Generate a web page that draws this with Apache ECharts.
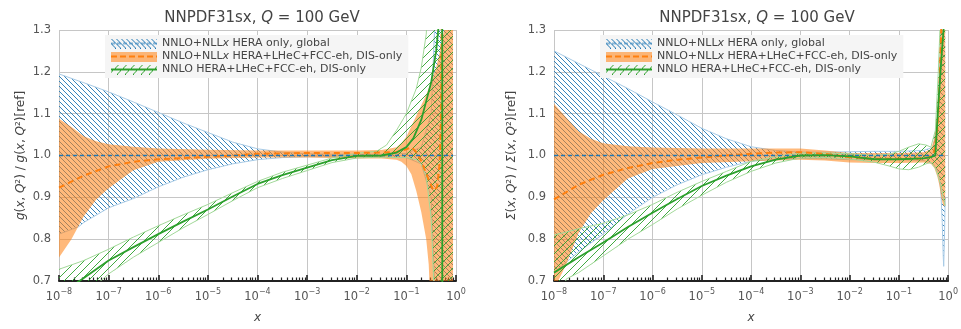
<!DOCTYPE html>
<html><head><meta charset="utf-8">
<script src="https://cdn.jsdelivr.net/npm/echarts@6/dist/echarts.min.js"></script>
<style>html,body{margin:0;padding:0;background:#fff}#c{width:961px;height:329px}</style>
</head><body><div id="c"></div>
<script>
// ---------- DATA (x given as log10 exponents) ----------
// Left panel: gluon ratio
const gBlueE  = [-8,-7.6,-7.5,-7,-6.5,-6,-5.5,-5,-4.5,-4,-3.5,-3,-2.5,-2,-1.5,-1,-0.7,-0.5,-0.4,-0.3,-0.2,-0.06];
const gBlueHi = [1.195,1.178,1.174,1.152,1.128,1.103,1.078,1.055,1.032,1.016,1.008,1.004,1.003,1.003,1.003,1.005,1.02,1.1,1.4,2,3,3];
const gBlueLo = [0.812,0.83,0.84,0.875,0.897,0.925,0.948,0.966,0.98,0.99,0.995,0.997,0.997,0.997,0.997,0.995,0.98,0.9,0.6,0,-1,-1];
const gBlueCE = [-8,-0.06];
const gBlueC  = [1.0,1.0];

const gOrE  = [-8,-7.75,-7.5,-7.25,-7,-6.5,-6,-5,-4,-3,-2,-1.5,-1.2,-1.1,-1.0,-0.9,-0.8,-0.7,-0.6,-0.55,-0.5,-0.4,-0.3,-0.24,-0.2,-0.1,-0.06];
const gOrHi = [1.088,1.068,1.046,1.034,1.027,1.021,1.017,1.014,1.012,1.012,1.012,1.013,1.02,1.03,1.045,1.07,1.095,1.12,1.145,1.16,1.175,1.21,1.26,1.3,1.5,3,3];
const gOrLo = [0.756,0.8,0.855,0.895,0.922,0.965,0.985,0.992,0.995,0.995,0.993,0.993,0.99,0.985,0.975,0.955,0.915,0.865,0.8,0.74,0.6,0.2,-1,-1,-1,-1,-1];
const gOrCE = [-8,-7.5,-7,-6.5,-6,-5.5,-5,-4.5,-4,-3,-2,-1.5,-1.2,-1.0,-0.9,-0.8,-0.7,-0.6,-0.5,-0.45,-0.38,-0.33,-0.3,-0.29,-0.28];
const gOrC  = [0.923,0.952,0.974,0.985,0.991,0.994,0.997,1.0,1.004,1.006,1.006,1.007,1.008,1.015,1.02,1.008,0.987,0.956,0.928,0.916,0.925,0.98,1.1,1.3,3];

const gGrE  = [-8,-7.5,-7,-6.5,-6,-5.5,-5,-4.5,-4,-3.5,-3,-2.5,-2,-1.6,-1.4,-1.2,-1.0,-0.8,-0.7,-0.6,-0.55,-0.5,-0.45,-0.4,-0.3,-0.2,-0.06];
const gGrHi = [0.728,0.749,0.776,0.805,0.832,0.858,0.883,0.911,0.938,0.96,0.977,0.994,1.005,1.01,1.025,1.06,1.1,1.16,1.21,1.29,1.4,1.8,2.5,3,3,3,3];
const gGrLo = [0.608,0.665,0.717,0.757,0.792,0.827,0.859,0.892,0.923,0.945,0.964,0.983,0.994,0.996,0.996,0.995,0.995,0.99,0.98,0.95,0.9,0.85,0.7,0.4,-1,-1,-1];
const gGrCE = [-8,-7.5,-7,-6.5,-6,-5.5,-5,-4.5,-4,-3.5,-3,-2.5,-2,-1.5,-1.2,-1.0,-0.86,-0.7,-0.6,-0.5,-0.4,-0.35,-0.3,-0.28,-0.27,-0.06];
const gGrC  = [0.668,0.707,0.749,0.781,0.812,0.842,0.871,0.902,0.932,0.953,0.971,0.989,0.999,1.0,1.007,1.02,1.041,1.085,1.13,1.175,1.25,1.31,1.6,3,-3,-3];

// Right panel: singlet ratio
const sBlueE  = [-8,-7.5,-7,-6.5,-6,-5.5,-5,-4.5,-4,-3.5,-3,-2.5,-2,-1.5,-1,-0.5,-0.3,-0.2,-0.15,-0.12,-0.1,-0.09,-0.075,-0.06];
const sBlueHi = [1.25,1.22,1.19,1.16,1.128,1.097,1.065,1.04,1.021,1.012,1.008,1.008,1.009,1.01,1.01,1.012,1.02,1.1,1.3,1.6,2,2.5,3,3];
const sBlueLo = [0.72,0.77,0.812,0.86,0.9,0.93,0.954,0.972,0.986,0.991,0.993,0.992,0.99,0.99,0.99,0.988,0.98,0.96,0.92,0.84,0.76,0.735,0.8,0.9];
const sBlueCE = [-8,-0.06];
const sBlueC  = [1.0,1.0];

const sOrE  = [-8,-7.75,-7.5,-7.25,-7,-6.5,-6,-5,-4,-3,-2.5,-2,-1.5,-1,-0.5,-0.35,-0.28,-0.22,-0.18,-0.14,-0.1,-0.06];
const sOrHi = [1.124,1.09,1.058,1.04,1.029,1.022,1.019,1.017,1.017,1.017,1.012,1.006,1.006,1.006,1.008,1.015,1.04,1.1,1.2,1.4,2,3];
const sOrLo = [0.68,0.74,0.815,0.862,0.893,0.945,0.968,0.982,0.986,0.99,0.988,0.983,0.982,0.982,0.983,0.98,0.97,0.95,0.93,0.9,0.88,0.88];
const sOrCE = [-8,-7.5,-7,-6.5,-6,-5.5,-5,-4.5,-4,-3.5,-3,-2.5,-2,-1.5,-1,-0.5,-0.35,-0.28,-0.22,-0.18,-0.14,-0.1,-0.06];
const sOrC  = [0.895,0.93,0.954,0.97,0.982,0.99,0.995,1.0,1.004,1.007,1.008,1.004,0.996,0.992,0.992,0.993,0.997,1.01,1.06,1.15,1.3,1.6,2];

const sGrE  = [-8,-7.75,-7.5,-7,-6.5,-6,-5.5,-5,-4.5,-4,-3.5,-3,-2.5,-2,-1.5,-1.2,-1,-0.8,-0.6,-0.45,-0.35,-0.26,-0.2,-0.15,-0.1,-0.06];
const sGrHi = [0.81,0.817,0.825,0.838,0.858,0.883,0.912,0.938,0.962,0.986,0.997,1.006,1.006,1.004,1.0,1.003,1.01,1.02,1.028,1.025,1.02,1.06,1.2,1.35,1.6,2];
const sGrLo = [0.62,0.705,0.72,0.76,0.8,0.835,0.872,0.905,0.936,0.962,0.982,0.994,0.995,0.992,0.984,0.975,0.968,0.966,0.972,0.98,0.984,0.97,0.95,0.93,0.9,0.88];
const sGrCE = [-8,-7.5,-7,-6.5,-6,-5.5,-5,-4.5,-4,-3.5,-3,-2.5,-2,-1.5,-1,-0.5,-0.35,-0.26,-0.2,-0.15,-0.1,-0.06];
const sGrC  = [0.72,0.757,0.792,0.829,0.863,0.896,0.927,0.952,0.974,0.99,1.0,1.001,0.998,0.991,0.991,0.993,0.996,1.0,1.12,1.21,1.29,1.35];

// Axis ticks / labels
const xTickExp = [-8,-7,-6,-5,-4,-3,-2,-1,0];
const yTicks = [0.7,0.8,0.9,1.0,1.1,1.2,1.3];
const legendNames = ['NNLO+NLLx HERA only, global','NNLO+NLLx HERA+LHeC+FCC-eh, DIS-only','NNLO HERA+LHeC+FCC-eh, DIS-only'];
const panelTitle = 'NNPDF31sx, Q = 100 GeV';

// ---------- STYLE ----------
const FONT = 'DejaVu Sans';
const BLUE = '#1f77b4', ORANGE = '#ff7f0e', GREEN = '#2ca02c';
const ORANGE_FILL = 'rgba(255,127,14,0.55)';

function hatchCanvas(color, size, dir, lw) {
  const c = document.createElement('canvas'); c.width = size; c.height = size;
  const g = c.getContext('2d'); g.strokeStyle = color; g.lineWidth = lw;
  g.beginPath();
  if (dir === 'back') {
    g.moveTo(-1,-1); g.lineTo(size+1,size+1);
    g.moveTo(-1,size-1); g.lineTo(1,size+1);
    g.moveTo(size-1,-1); g.lineTo(size+1,1);
  } else {
    g.moveTo(-1,size+1); g.lineTo(size+1,-1);
    g.moveTo(-1,1); g.lineTo(1,-1);
    g.moveTo(size-1,size+1); g.lineTo(size+1,size-1);
  }
  g.stroke();
  return c;
}

function legendIcon(kind) {
  const w = 46, h = 10;
  const c = document.createElement('canvas'); c.width = w; c.height = h;
  const g = c.getContext('2d');
  if (kind === 'blue') {
    g.fillStyle = g.createPattern(hatchCanvas(BLUE, 5, 'back', 1), 'repeat'); g.fillRect(0,0,w,h);
    g.strokeStyle = BLUE; g.lineWidth = 1.2; g.setLineDash([4,2]);
    g.beginPath(); g.moveTo(0,h/2); g.lineTo(w,h/2); g.stroke();
  } else if (kind === 'orange') {
    g.fillStyle = ORANGE_FILL; g.fillRect(0,0,w,h);
    g.strokeStyle = ORANGE; g.lineWidth = 2; g.setLineDash([6,3]);
    g.beginPath(); g.moveTo(0,h/2); g.lineTo(w,h/2); g.stroke();
  } else {
    g.fillStyle = g.createPattern(hatchCanvas(GREEN, 8, 'fwd', 1), 'repeat'); g.fillRect(0,0,w,h);
    g.strokeStyle = GREEN; g.lineWidth = 2;
    g.beginPath(); g.moveTo(0,h/2); g.lineTo(w,h/2); g.stroke();
  }
  return 'image://' + c.toDataURL();
}

function toData(E, V) { return E.map((e,i) => [Math.pow(10, e), V[i]]); }

// hatch lines covering the plotting rectangle (decoration, clipped by band polygon)
function hatchLines(cs, spacing, dir, color, lw) {
  const out = [];
  const H = cs.height, W = cs.width;
  for (let x1 = cs.x - H - spacing; x1 <= cs.x + W + spacing; x1 += spacing) {
    const shape = dir === 'back'
      ? {x1: x1, y1: cs.y, x2: x1 + H, y2: cs.y + H}
      : {x1: x1, y1: cs.y + H, x2: x1 + H, y2: cs.y};
    out.push({type: 'line', shape, style: {stroke: color, lineWidth: lw}});
  }
  return out;
}

function band(name, gi, E, LO, HI, fillSpec, edge, z) {
  const data = E.map((e,i) => [Math.pow(10, e), LO[i], HI[i]]);
  return {
    type: 'custom', name, xAxisIndex: gi*2, yAxisIndex: gi, z, silent: true,
    data, encode: {x: 0, y: [1,2]},
    renderItem(params, api) {
      if (params.dataIndex !== 0) return null;
      const up = data.map(d => api.coord([d[0], d[2]]));
      const dn = data.map(d => api.coord([d[0], d[1]]));
      const poly = up.concat(dn.slice().reverse());
      const cs = params.coordSys;
      const ch = [];
      if (fillSpec.hatch) {
        ch.push({type: 'group', clipPath: {type: 'polygon', shape: {points: poly}},
                 children: hatchLines(cs, fillSpec.spacing, fillSpec.hatch, fillSpec.color, fillSpec.lw)});
      } else {
        ch.push({type: 'polygon', shape: {points: poly}, style: {fill: fillSpec.color, stroke: null, lineWidth: 0}});
      }
      if (edge) {
        ch.push({type:'polyline', shape:{points: up}, style:{stroke: edge, lineWidth: 1, fill: null}});
        ch.push({type:'polyline', shape:{points: dn}, style:{stroke: edge, lineWidth: 1, fill: null}});
      }
      return {type:'group', clipPath:{type:'rect', shape:{x: cs.x, y: cs.y, width: cs.width, height: cs.height}}, children: ch};
    }
  };
}
function line(name, gi, E, V, color, width, dash, z) {
  return {
    type: 'line', name, xAxisIndex: gi*2, yAxisIndex: gi, z, silent: true,
    data: toData(E, V), showSymbol: false, symbol: 'none', clip: true,
    lineStyle: {color, width, type: dash || 'solid'}
  };
}

const minorVals = [];
for (let d = -8; d < 0; d++) for (let k = 2; k <= 9; k++) minorVals.push(k * Math.pow(10, d));

const grids = [
  {left: 59, top: 30, width: 397, height: 252},
  {left: 554, top: 30, width: 397, height: 252}
];
const xAxes = [], yAxes = [];
const yNames = [
  '{i|g}({i|x}, {i|Q}²) / {i|g}({i|x}, {i|Q}²)[ref]',
  '{i|Σ}({i|x}, {i|Q}²) / {i|Σ}({i|x}, {i|Q}²)[ref]'
];
[0,1].forEach(gi => {
  xAxes.push({
    type: 'log', logBase: 10, gridIndex: gi, min: 1e-8, max: 1, position: 'bottom',
    name: 'x', nameLocation: 'middle', nameGap: 31,
    nameTextStyle: {fontFamily: FONT, fontStyle: 'italic', fontSize: 12, color: '#444'},
    axisLine: {show: true, onZero: false, lineStyle: {color: '#222', width: 2}},
    axisTick: {show: true, inside: true, length: 6, lineStyle: {color: '#222', width: 1.6},
               customValues: xTickExp.map(e => Math.pow(10, e))},
    axisLabel: {
      show: true, margin: 7, customValues: xTickExp.map(e => Math.pow(10, e)),
      formatter: v => '{b|10}{s|' + String(Math.round(Math.log10(v))).replace('-', '−') + '}',
      rich: {
        b: {fontFamily: FONT, fontSize: 11.5, color: '#555', lineHeight: 15, verticalAlign: 'bottom'},
        s: {fontFamily: FONT, fontSize: 8, color: '#555', lineHeight: 9, verticalAlign: 'top'}
      }
    },
    splitLine: {show: true, lineStyle: {color: '#c6c6c6', width: 1}}
  });
  xAxes.push({
    type: 'log', logBase: 10, gridIndex: gi, min: 1e-8, max: 1, position: 'bottom',
    axisLine: {show: false}, axisLabel: {show: false}, splitLine: {show: false},
    axisTick: {show: true, inside: true, length: 3.5, lineStyle: {color: '#222', width: 1.2}, customValues: minorVals}
  });
  yAxes.push({
    type: 'value', gridIndex: gi, min: 0.7, max: 1.3, interval: 0.1,
    name: yNames[gi], nameLocation: 'middle', nameGap: gi === 0 ? 32 : 36, nameRotate: 90,
    nameTextStyle: {fontFamily: FONT, fontSize: 12, color: '#444',
      rich: {i: {fontFamily: FONT, fontStyle: 'italic', fontSize: 12, color: '#444'}}},
    axisLine: {show: false}, axisTick: {show: false},
    axisLabel: {margin: 8, fontFamily: FONT, fontSize: 11.5, color: '#555', formatter: v => v.toFixed(1),
                customValues: yTicks},
    splitLine: {show: true, lineStyle: {color: '#c6c6c6', width: 1}}
  });
});

const blueFill = {hatch: 'back', spacing: 5, color: BLUE, lw: 0.9};
const orangeFill = {color: ORANGE_FILL};
const greenFill = {hatch: 'fwd', spacing: 8, color: GREEN, lw: 0.9};

const series = [
  band(legendNames[0], 0, gBlueE, gBlueLo, gBlueHi, blueFill, '#a9cbe6', 2),
  band(legendNames[1], 0, gOrE, gOrLo, gOrHi, orangeFill, null, 3),
  band(legendNames[2], 0, gGrE, gGrLo, gGrHi, greenFill, '#a3d99a', 4),
  line(legendNames[1], 0, gOrCE, gOrC, ORANGE, 2, [6,4], 5),
  line(legendNames[0], 0, gBlueCE, gBlueC, BLUE, 1.3, [4,3], 6),
  line(legendNames[2], 0, gGrCE, gGrC, GREEN, 1.8, null, 7),

  band(legendNames[0], 1, sBlueE, sBlueLo, sBlueHi, blueFill, '#a9cbe6', 2),
  band(legendNames[1], 1, sOrE, sOrLo, sOrHi, orangeFill, null, 3),
  band(legendNames[2], 1, sGrE, sGrLo, sGrHi, greenFill, '#a3d99a', 4),
  line(legendNames[1], 1, sOrCE, sOrC, ORANGE, 2, [6,4], 5),
  line(legendNames[0], 1, sBlueCE, sBlueC, BLUE, 1.3, [4,3], 6),
  line(legendNames[2], 1, sGrCE, sGrC, GREEN, 1.8, null, 7)
];

const icons = [legendIcon('blue'), legendIcon('orange'), legendIcon('green')];
function mkLegend(left) {
  return {
    left, top: 35, orient: 'vertical', selectedMode: false,
    itemWidth: 46, itemHeight: 10, itemGap: 2, padding: [3, 6, 3, 6],
    backgroundColor: '#f5f5f5',
    textStyle: {fontFamily: FONT, fontSize: 11, color: '#444',
      rich: {i: {fontFamily: FONT, fontStyle: 'italic', fontSize: 11, color: '#444'}}},
    formatter: n => n.replace('NLLx', 'NLL{i|x}'),
    data: legendNames.map((n, i) => ({name: n, icon: icons[i]}))
  };
}

function mkTitle(cx) {
  const parts = panelTitle.split('Q');
  return {
    text: '{t|' + parts[0] + '}{i|Q}{t|' + parts[1] + '}',
    left: cx, top: 6, textAlign: 'center',
    textStyle: {fontWeight: 'normal', rich: {
      t: {fontFamily: FONT, fontSize: 15, fontWeight: 'normal', color: '#444'},
      i: {fontFamily: FONT, fontSize: 15, fontWeight: 'normal', fontStyle: 'italic', color: '#444'}
    }}
  };
}

const chart = echarts.init(document.getElementById('c'), null, {renderer: 'canvas'});
chart.setOption({
  animation: false,
  backgroundColor: '#fff',
  title: [mkTitle(257), mkTitle(752)],
  legend: [mkLegend(105), mkLegend(600)],
  grid: grids,
  xAxis: xAxes,
  yAxis: yAxes,
  series
});
</script></body></html>
